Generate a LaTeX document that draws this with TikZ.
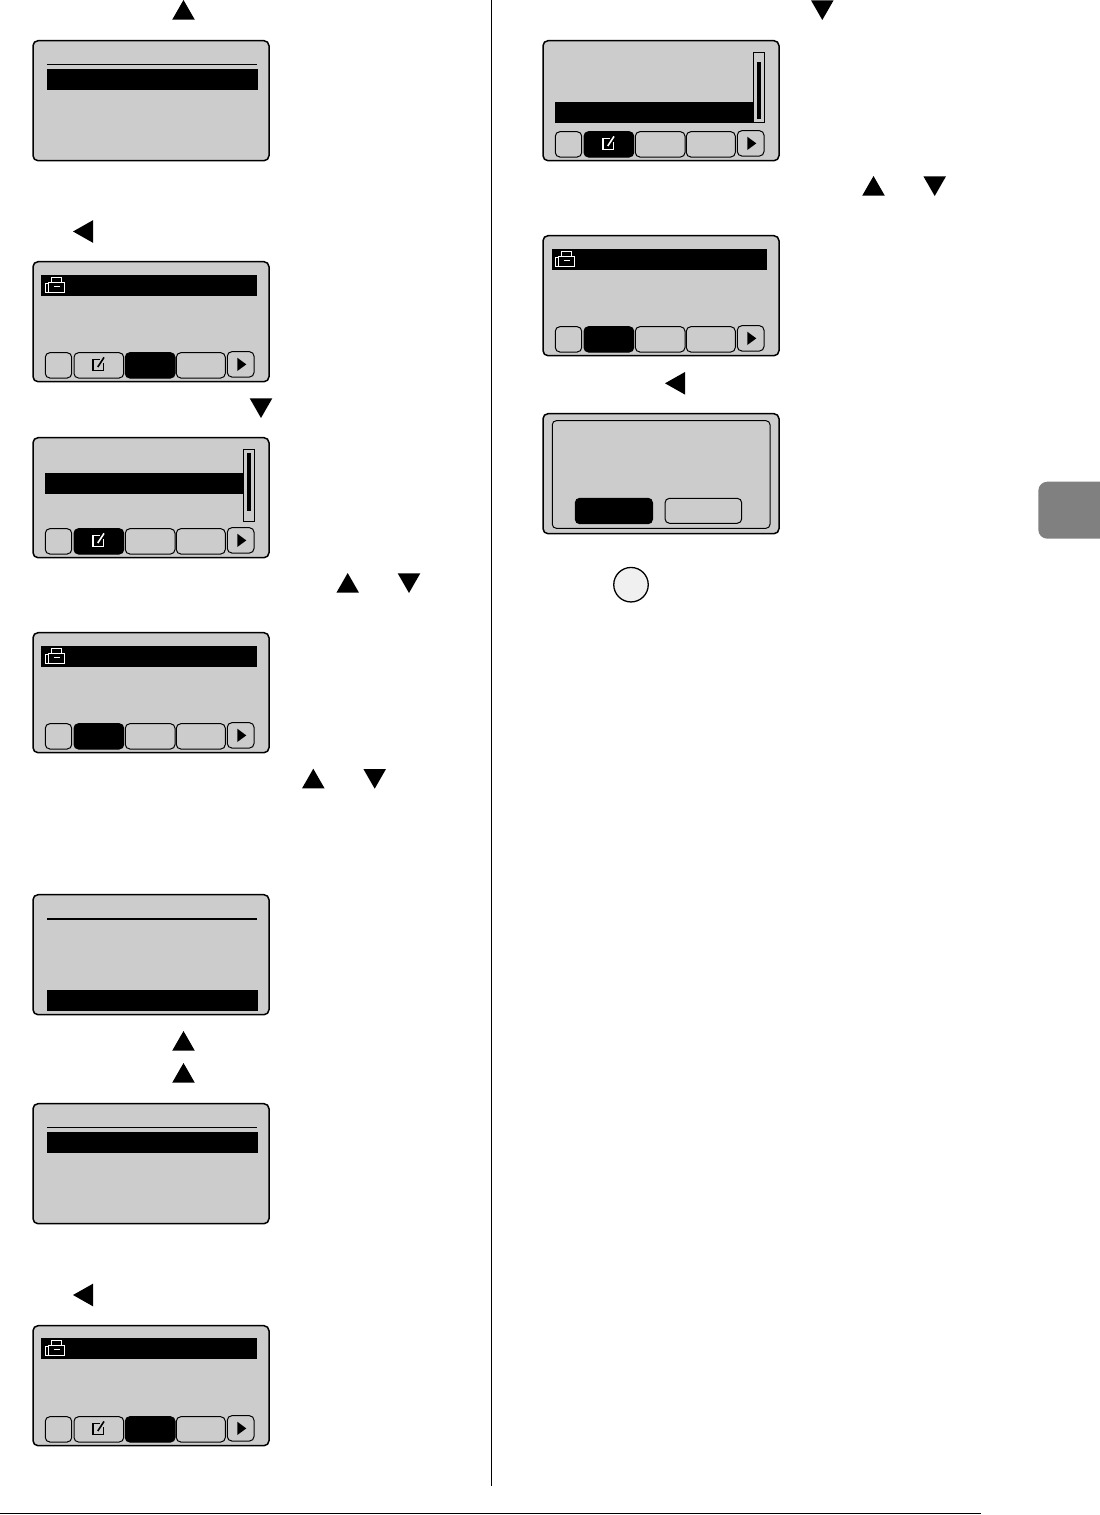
\documentclass[tikz,border=0pt]{standalone}
\definecolor{lcd}{HTML}{CCCCCC}
\definecolor{tabgray}{HTML}{808080}
\definecolor{btn}{HTML}{F0F0F0}
\tikzset{
  frame/.style={draw=black,line width=1.5pt,fill=lcd,rounded corners=5pt},
  softkey/.style={draw=black,line width=1pt,rounded corners=4.5pt,fill=lcd},
  softon/.style={draw=black,line width=1pt,rounded corners=4.5pt,fill=black},
  rulebar/.style={fill=black},
  thinrule/.style={draw=black,line width=0.8pt},
  thickrule/.style={draw=black,line width=1.2pt},
  mark tri/.style={fill=black}
}
% screen frame at left x, top y
\newcommand{\Frame}[2]{\draw[frame] (#1,#2-0.3) rectangle ++(236,120);}
\newcommand{\Up}[2]{\fill[mark tri] (#1,#2) ++(-11.3,9.7) -- ++(22.6,0) -- ++(-11.3,-19.7) -- cycle;}
\newcommand{\Dn}[2]{\fill[mark tri] (#1,#2) ++(-11.3,-9.7) -- ++(22.6,0) -- ++(-11.3,19.7) -- cycle;}
\newcommand{\Lf}[2]{\fill[mark tri] (#1,#2) ++(10,-11.3) -- ++(0,22.6) -- ++(-20,-11.3) -- cycle;}
% pencil icon, centre
\newcommand{\Pencil}[3]{\begin{scope}[shift={(#1,#2)}]
  \draw[#3,line width=1.2pt] (1.5,-4.7) -- (-5.2,-4.7) -- (-5.2,6.2) -- (5.5,6.2) -- (5.5,-1);
  \draw[#3,line width=1.6pt] (5.8,-7) -- (-0.4,2.6);
  \end{scope}}
% fax icon, white on black
\newcommand{\Fax}[2]{\begin{scope}[shift={(#1,#2)}]
  \draw[white,line width=0.9pt] (0,15.3) -- (0,6.7) -- (3.3,6.7);
  \draw[white,line width=0.9pt] (3.3,15.3) -- (3.3,5) -- (18.6,5) -- (18.6,15.3);
  \draw[white,line width=0.9pt] (5.7,5) -- (5.7,0.4) -- (15.8,0.4) -- (15.8,5);
  \draw[white,line width=1.8pt] (-0.4,15.5) -- (19,15.5);
  \draw[white,line width=0.9pt] (8.3,9.5) -- (14,9.5);
  \end{scope}}
% softkeys: #1 frame x, #2 frame y, styles for keys 2,3,4; extra content
\newcommand{\Keys}[6]{\begin{scope}[shift={(#1,#2)}]
  \draw[softkey] (12.3,90.7) rectangle (38.7,116);
  \draw[#3] (41,90.7) rectangle (90.7,116);
  \draw[#4] (92.3,90.7) rectangle (142,116);
  \draw[#5] (143.3,90.7) rectangle (192.3,116);
  \draw[softkey] (194.3,89.7) rectangle (221,115);
  \fill[black] (204.3,95.7) -- (204.3,109) -- (213.3,102.4) -- cycle;
  #6
  \end{scope}}
\begin{document}
\begin{tikzpicture}[x=1pt,y=-1pt]
\useasboundingbox (0,0) rectangle (1100,1515);
% page furniture
\draw[black,line width=0.8pt] (491,0) -- (491,1486);
\draw[black,line width=1.1pt] (0,1513.5) -- (981,1513.5);
\fill[tabgray,rounded corners=9pt] (1038.3,481.7) rectangle (1112,538.7);
% --- left column
\Up{183.5}{10}
\Frame{33}{41}
\draw[thinrule] (47,64.4) -- (257,64.4);
\fill[rulebar] (47,69) rectangle (258,90);
\Lf{83}{231.5}
\Frame{33}{262}
\fill[rulebar] (41,275) rectangle (257,296);
\Fax{45.5}{277}
\Keys{33}{262}{softkey}{softon}{softkey}{\Pencil{65.2}{102.4}{black}}
\Dn{261}{408}
\Frame{33}{438}
\fill[rulebar] (45,473) rectangle (243.5,494);
\draw[black,line width=1pt,fill=lcd] (243.5,449.5) rectangle (254.7,521.7);
\fill[rulebar] (247,453.3) rectangle (251,511);
\Keys{33}{438}{softon}{softkey}{softkey}{\Pencil{65.2}{102.4}{white}}
\Up{347.7}{583}
\Dn{409}{583}
\Frame{33}{633}
\fill[rulebar] (41,646) rectangle (257,667);
\Fax{45.5}{648}
\Keys{33}{633}{softon}{softkey}{softkey}{}
\Up{313.3}{778.7}
\Dn{374.7}{778.7}
\Frame{33}{895}
\draw[thickrule] (47,919) -- (257,919);
\fill[rulebar] (47,990) rectangle (258,1011);
\Up{183.5}{1041}
\Up{183.5}{1073}
\Frame{33}{1104}
\draw[thickrule] (47,1127.7) -- (257,1127.7);
\fill[rulebar] (47,1132) rectangle (258,1153);
\Lf{83}{1295}
\Frame{33}{1326}
\fill[rulebar] (41,1338) rectangle (257,1359);
\Fax{45.5}{1340}
\Keys{33}{1326}{softkey}{softon}{softkey}{\Pencil{65.2}{102.4}{black}}
% --- right column
\Dn{822.3}{10}
\Frame{543}{41}
\fill[rulebar] (555,102) rectangle (753.5,122.7);
\draw[black,line width=1pt,fill=lcd] (753.5,52.5) rectangle (764.5,122.5);
\fill[rulebar] (757.3,62) rectangle (761,119.3);
\Keys{543}{41}{softon}{softkey}{softkey}{\Pencil{65.2}{102.4}{white}}
\Up{873.5}{186}
\Dn{934.7}{186}
\Frame{543}{236}
\fill[rulebar] (552,249) rectangle (767,270);
\Fax{555.5}{251}
\Keys{543}{236}{softon}{softkey}{softkey}{}
\Lf{675}{383.3}
\Frame{543}{414}
\draw[black,line width=1pt,rounded corners=4pt] (552.3,420.7) rectangle (770,528.3);
\draw[softon] (575.3,498.3) rectangle (652.5,523.7);
\draw[softkey] (665,498.3) rectangle (741.7,523.3);
\node[circle,draw=black,line width=1.3pt,fill=btn,minimum size=34.5pt,inner sep=0pt] (okbutton) at (631,584.7) {};
\end{tikzpicture}
\end{document}
